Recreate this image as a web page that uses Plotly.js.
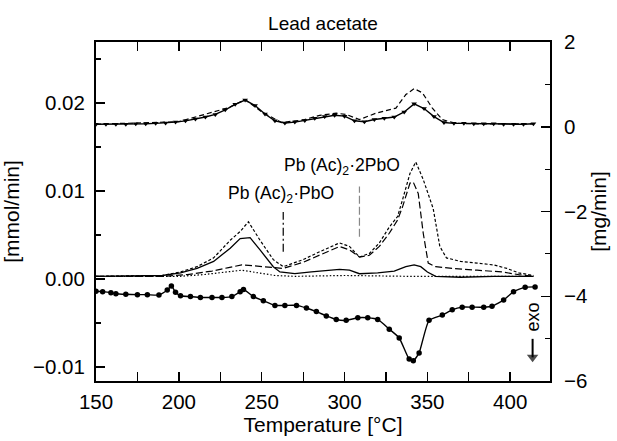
<!DOCTYPE html>
<html>
<head>
<meta charset="utf-8">
<script src="https://cdn.plot.ly/plotly-3.0.1.min.js"></script>
<style>html,body{margin:0;padding:0;background:#fff;}#chart{width:617px;height:441px;}</style>
</head>
<body>
<div id="chart"></div>
<script>
// ---- Top curves (right axis, mg/min) ----
const topSolidT = [150,156,162,168,174,180,186,192,198,204,210,216,222,228,234,240,246,252,258,264,270,276,282,288,294,300,306,312,318,324,330,336,342,348,354,360,366,372,378,384,390,396,402,408,414];
const topSolidV = [0.06,0.06,0.06,0.06,0.07,0.07,0.08,0.09,0.11,0.14,0.18,0.23,0.29,0.40,0.53,0.63,0.50,0.30,0.14,0.09,0.11,0.15,0.20,0.24,0.27,0.25,0.14,0.12,0.17,0.20,0.23,0.35,0.54,0.43,0.24,0.10,0.08,0.08,0.07,0.07,0.07,0.06,0.06,0.06,0.07];
const topDashT = [150,200,230,240,250,262,275,285,295,301,309,319,331,337,342,347,353,359,367,380,414];
const topDashV = [0.06,0.12,0.45,0.64,0.35,0.10,0.16,0.27,0.32,0.29,0.17,0.32,0.44,0.76,0.90,0.80,0.44,0.17,0.08,0.07,0.07];

// ---- Middle curves (left axis, mmol/min) ----
const shortDashT = [150,190,201,211,221,231,237,242,249,257,263,275,285,297,303,309,315,321,327,332,335,339.5,343,347.5,353.5,357.5,361.5,370,380,390,398,405,414];
const shortDashV = [0.0003,0.0004,0.0008,0.0014,0.0024,0.0044,0.0054,0.0065,0.0044,0.0022,0.0014,0.0022,0.0031,0.0041,0.0037,0.0025,0.0029,0.0041,0.0059,0.0071,0.0090,0.0120,0.0133,0.0113,0.0080,0.0037,0.0024,0.0020,0.0018,0.0016,0.0012,0.0007,0.0004];
const longDashT = [150,190,205,220,230,238,245,252,258,263,275,285,297,303,309,315,321,327,332,335,339.5,341.5,344.5,347.5,350.5,355,365,380,395,405,414];
const longDashV = [0.0003,0.0003,0.0005,0.0009,0.0013,0.0016,0.0015,0.0014,0.0013,0.0012,0.0019,0.0027,0.0037,0.0033,0.0025,0.0027,0.0037,0.0052,0.0067,0.0082,0.0109,0.0110,0.0097,0.0052,0.0018,0.0014,0.0012,0.0010,0.0008,0.0005,0.0003];
const solidMidT = [150,190,201,211,221,231,237,243,249,257,261,270,280,290,297,303,309,320,330,337,342,346,350,355,370,390,414];
const solidMidV = [0.0003,0.0004,0.0007,0.0012,0.0020,0.0035,0.0046,0.0047,0.0033,0.0014,0.0008,0.0006,0.0008,0.0010,0.0011,0.0010,0.0006,0.0007,0.0009,0.0014,0.0016,0.0014,0.0008,0.0003,0.0002,0.0003,0.0003];
const dottedT = [150,200,215,228,238,248,258,270,300,340,380,414];
const dottedV = [0.0003,0.0003,0.0005,0.0008,0.0010,0.0007,0.0004,0.0003,0.0004,0.0003,0.0003,0.0003];

// ---- Bottom DTA curve (left axis units) ----
const dtaT = [150,154,159,162,168,175,181,188,193,195.5,198,201,207,213,220,226,232,237,239,245,251,258,264,271,277,283,289,295,301,308,314,320,327,333,339,341.5,345,351,359,365,371,377,384,389,396,402,409,415];
const dtaV = [-0.0014,-0.00144,-0.00155,-0.00167,-0.00174,-0.00178,-0.00178,-0.00182,-0.00125,-0.0008,-0.0015,-0.0019,-0.0020,-0.0021,-0.0021,-0.0021,-0.0020,-0.00144,-0.0012,-0.0020,-0.00247,-0.0030,-0.0030,-0.0030,-0.0033,-0.0037,-0.0042,-0.0046,-0.0047,-0.0044,-0.0044,-0.0046,-0.0057,-0.0067,-0.0091,-0.0093,-0.0084,-0.0047,-0.0041,-0.0035,-0.0032,-0.0032,-0.0032,-0.0031,-0.0024,-0.00144,-0.00094,-0.0009];

// ---- Annotation leader lines, labels and exo arrow ----
const leadT = [263, 309];
const leadTop = [0.0076, 0.0105];
const leadBottom = [0.0031, 0.0048];
const labels = ['Pb (Ac)<sub>2</sub>·PbO', 'Pb (Ac)<sub>2</sub>·2PbO'];
const labelT = [261.5, 298.5];
const labelV = [0.0096, 0.0128];
const exoT = [413.5, 413.5];
const exoV = [-0.0068, -0.0089];
const exoLabelV = -0.0043;

const FONT = 'Liberation Sans, Arial, Helvetica, sans-serif';
const traces = [
  {x: topDashT, y: topDashV, yaxis: 'y2', mode: 'lines', line: {color: '#000', width: 1.2, dash: '5px,3px'}},
  {x: topSolidT, y: topSolidV, yaxis: 'y2', mode: 'lines+markers', line: {color: '#000', width: 1.4},
   marker: {symbol: 'triangle-down', size: 5, color: '#000'}},
  {x: shortDashT, y: shortDashV, mode: 'lines', line: {color: '#000', width: 1.2, dash: '3px,2px'}},
  {x: longDashT, y: longDashV, mode: 'lines', line: {color: '#000', width: 1.2, dash: '7px,3px'}},
  {x: solidMidT, y: solidMidV, mode: 'lines', line: {color: '#000', width: 1.3}},
  {x: dottedT, y: dottedV, mode: 'lines', line: {color: '#000', width: 1.2, dash: '1.5px,2px'}},
  {x: dtaT, y: dtaV, mode: 'lines+markers', line: {color: '#000', width: 1.4, shape: 'spline', smoothing: 0.5},
   marker: {symbol: 'circle', size: 5.5, color: '#000'}},
  {x: [leadT[0], leadT[0]], y: [leadBottom[0], leadTop[0]], mode: 'lines', line: {color: '#000', width: 1.2, dash: '8px,3px,2px,3px'}},
  {x: [leadT[1], leadT[1]], y: [leadBottom[1], leadTop[1]], mode: 'lines', line: {color: '#888', width: 1.2, dash: '8px,3px'}},
  {x: exoT, y: exoV, mode: 'lines+markers', line: {color: '#000', width: 2},
   marker: {symbol: 'triangle-down', size: [0, 10], color: '#000', line: {width: 0}}}
];

const annotations = [
  {x: labelT[0], y: labelV[0], xref: 'x', yref: 'y', text: labels[0], showarrow: false, font: {family: FONT, size: 17.5, color: '#000'}},
  {x: labelT[1], y: labelV[1], xref: 'x', yref: 'y', text: labels[1], showarrow: false, font: {family: FONT, size: 17.5, color: '#000'}},
  {x: exoT[0], y: exoLabelV, xref: 'x', yref: 'y', text: 'exo', textangle: -90, showarrow: false, font: {family: FONT, size: 18, color: '#000'}}
];

const layout = {
  width: 617, height: 441,
  margin: {l: 96, r: 67, t: 42, b: 60},
  paper_bgcolor: '#fff', plot_bgcolor: '#fff',
  showlegend: false,
  font: {family: FONT, color: '#000', size: 20},
  title: {text: 'Lead acetate', font: {family: FONT, size: 19, color: '#000'}, x: 0.5, xref: 'paper', y: 1 - 23/441, yref: 'container', yanchor: 'middle'},
  xaxis: {
    range: [150, 424], tickmode: 'linear', tick0: 150, dtick: 50,
    ticks: 'inside', ticklen: 9, tickwidth: 1.5, tickcolor: '#000',
    minor: {dtick: 25, ticklen: 5, tickwidth: 1.2, ticks: 'inside', tickcolor: '#000'},
    showline: true, linewidth: 2, linecolor: '#000', mirror: 'allticks',
    showgrid: false, zeroline: false,
    tickfont: {family: FONT, size: 20.5}, ticklabelstandoff: 1,
    title: {text: 'Temperature [°C]', font: {family: FONT, size: 21}, standoff: 4}
  },
  yaxis: {
    range: [-0.01159, 0.02693], tickmode: 'linear', tick0: 0, dtick: 0.01, tickformat: '.2f',
    ticks: 'inside', ticklen: 9, tickwidth: 1.5, tickcolor: '#000',
    minor: {dtick: 0.005, ticklen: 5, tickwidth: 1.2, ticks: 'inside', tickcolor: '#000'},
    showline: true, linewidth: 2, linecolor: '#000', mirror: false,
    showgrid: false, zeroline: false,
    tickfont: {family: FONT, size: 20.5}, ticklabelstandoff: 5,
    title: {text: '[mmol/min]', font: {family: FONT, size: 21}, standoff: 10}
  },
  yaxis2: {
    overlaying: 'y', side: 'right', range: [-6, 2], tickmode: 'linear', tick0: 0, dtick: 2,
    ticks: 'inside', ticklen: 9, tickwidth: 1.5, tickcolor: '#000',
    minor: {dtick: 1, ticklen: 5, tickwidth: 1.2, ticks: 'inside', tickcolor: '#000'},
    showline: true, linewidth: 2, linecolor: '#000',
    showgrid: false, zeroline: false,
    tickfont: {family: FONT, size: 20.5}, ticklabelstandoff: 8,
    title: {text: '[mg/min]', font: {family: FONT, size: 21}, standoff: 5}
  },
  annotations: annotations
};

Plotly.newPlot('chart', traces, layout, {staticPlot: true, displayModeBar: false});
</script>
</body>
</html>
